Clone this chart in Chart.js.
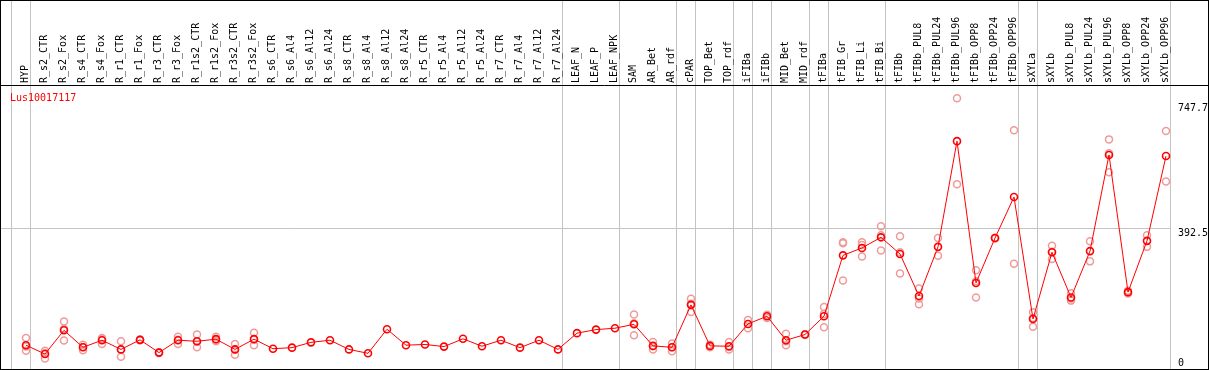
<!DOCTYPE html>
<html>
<head>
<meta charset="utf-8">
<script src="https://cdn.jsdelivr.net/npm/chart.js@4.4.1/dist/chart.umd.min.js"></script>
<style>
html,body{margin:0;padding:0;background:#fff;}
canvas{display:block;}
</style>
</head>
<body>
<canvas id="c" width="1209" height="370"></canvas>
<script>
const categories = ["HYP","R_s2_CTR","R_s2_Fox","R_s4_CTR","R_s4_Fox","R_r1_CTR","R_r1_Fox","R_r3_CTR","R_r3_Fox","R_r1s2_CTR","R_r1s2_Fox","R_r3s2_CTR","R_r3s2_Fox","R_s6_CTR","R_s6_Al4","R_s6_Al12","R_s6_Al24","R_s8_CTR","R_s8_Al4","R_s8_Al12","R_s8_Al24","R_r5_CTR","R_r5_Al4","R_r5_Al12","R_r5_Al24","R_r7_CTR","R_r7_Al4","R_r7_Al12","R_r7_Al24","LEAF_N","LEAF_P","LEAF_NPK","SAM","AR_Bet","AR_rdf","cPAR","TOP_Bet","TOP_rdf","iFIBa","iFIBb","MID_Bet","MID_rdf","tFIBa","tFIB_Gr","tFIB_Li","tFIB_Bi","tFIBb","tFIBb_PUL8","tFIBb_PUL24","tFIBb_PUL96","tFIBb_OPP8","tFIBb_OPP24","tFIBb_OPP96","sXYLa","sXYLb","sXYLb_PUL8","sXYLb_PUL24","sXYLb_PUL96","sXYLb_OPP8","sXYLb_OPP24","sXYLb_OPP96"];

const meanValues = [62,37,104,56,76,50,77,41,76,73,79,50,79,52,55,70,76,50,39,107,62,64,58,80,59,76,55,76,50,96,106,110,121,60,56,176,60,59,122,144,76,92,144,316,337,367,320,201,340,639,238,365,481,136,325,197,328,600,212,357,597];

const rep1 = [82,46,129,63,82,73,78,42,86,92,86,65,97,null,null,null,null,null,null,null,null,null,null,null,null,null,null,null,null,null,null,null,149,71,67,193,63,71,133,148,94,93,170,353,353,398,370,222,365,760,274,366,670,155,343,209,356,644,216,373,668];
const rep2 = [46,24,75,48,65,29,76,40,65,56,73,35,62,null,null,null,null,null,null,null,null,null,null,null,null,null,null,null,null,null,null,null,90,50,45,156,56,50,110,139,62,91,113,350,313,330,265,178,315,517,197,364,292,114,306,188,299,551,208,340,525];
const rep3 = [58,40,108,57,79,50,null,null,77,72,78,50,78,null,null,null,null,null,null,null,null,null,null,null,null,null,null,null,null,null,null,null,124,60,56,179,null,57,null,null,73,null,150,245,345,373,325,194,null,null,243,null,null,139,326,194,null,605,null,null,null];

const groupBounds = [-0.78,0.22,28.22,31.22,34.22,35.22,37.22,38.22,39.22,41.22,42.22,45.22,52.22,53.22,60.22];
const yTicks = [747.7,392.5,0];
const titleText = "Lus10017117";

function pts(arr){ const o=[]; arr.forEach((v,i)=>{ if(v!==null) o.push({x:i,y:v}); }); return o; }

const FONT = '10px "DejaVu Sans Mono"';

const decor = {
  id:'decor',
  beforeDraw(chart){
    const ctx = chart.ctx, xs = chart.scales.x, ys = chart.scales.y;
    const W = chart.width, H = chart.height;
    ctx.save();
    ctx.fillStyle = '#fff';
    ctx.fillRect(0,0,W,H);
    ctx.strokeStyle = '#c4c4c4';
    ctx.lineWidth = 1;
    groupBounds.forEach(b=>{
      const x = Math.round(xs.getPixelForValue(b))+0.5;
      ctx.beginPath(); ctx.moveTo(x,0); ctx.lineTo(x,H); ctx.stroke();
    });
    const yg = Math.round(ys.getPixelForValue(yTicks[1]))+0.5;
    const xr = Math.round(xs.getPixelForValue(groupBounds[groupBounds.length-1]))+0.5;
    ctx.beginPath(); ctx.moveTo(1,yg); ctx.lineTo(xr,yg); ctx.stroke();
    ctx.strokeStyle = '#000';
    ctx.beginPath(); ctx.moveTo(0,85.5); ctx.lineTo(W,85.5); ctx.stroke();
    ctx.strokeRect(0.5,0.5,W-1,H-1);
    ctx.fillStyle = '#000';
    ctx.font = FONT;
    ctx.textAlign = 'left';
    ctx.textBaseline = 'middle';
    categories.forEach((c,i)=>{
      const x = xs.getPixelForValue(i);
      ctx.save();
      ctx.translate(Math.round(x)-0.5, 83);
      ctx.rotate(-Math.PI/2);
      ctx.fillText(c,0,0);
      ctx.restore();
    });
    ctx.fillStyle = '#ff0000';
    ctx.textBaseline = 'alphabetic';
    ctx.fillText(titleText, 10, 101);
    ctx.fillStyle = '#000';
    ctx.fillText(String(yTicks[0]), 1178, ys.getPixelForValue(yTicks[0])+8.5);
    ctx.fillText(String(yTicks[1]), 1178, ys.getPixelForValue(yTicks[1])+8);
    ctx.fillText(String(yTicks[2]), 1178, ys.getPixelForValue(yTicks[2])-1);
    ctx.restore();
  }
};

const repStyle = {
  showLine:false, borderColor:'#f09a9a', backgroundColor:'rgba(0,0,0,0)',
  pointBorderColor:'#f09a9a', pointBackgroundColor:'rgba(0,0,0,0)',
  pointRadius:3.5, pointBorderWidth:1.5, order:2, clip:false
};

new Chart(document.getElementById('c'), {
  type:'line',
  data:{
    datasets:[
      Object.assign({label:'rep1', data:pts(rep1)}, repStyle),
      Object.assign({label:'rep2', data:pts(rep2)}, repStyle),
      Object.assign({label:'rep3', data:pts(rep3)}, repStyle),
      {label:'mean', data:pts(meanValues), borderColor:'#ff0000', borderWidth:1,
       backgroundColor:'rgba(0,0,0,0)', pointBorderColor:'#ff0000', pointBackgroundColor:'rgba(0,0,0,0)',
       pointRadius:3.5, pointBorderWidth:1.6, tension:0, order:0, clip:false}
    ]
  },
  options:{
    responsive:false, animation:false, devicePixelRatio:1,
    layout:{padding:{left:8,right:8,top:86,bottom:8}},
    plugins:{legend:{display:false}, tooltip:{enabled:false}},
    scales:{
      x:{type:'linear', display:false, min:-0.947, max:61.842},
      y:{type:'linear', display:false, min:14.42, max:794.95}
    }
  },
  plugins:[decor]
});
</script>
</body>
</html>
